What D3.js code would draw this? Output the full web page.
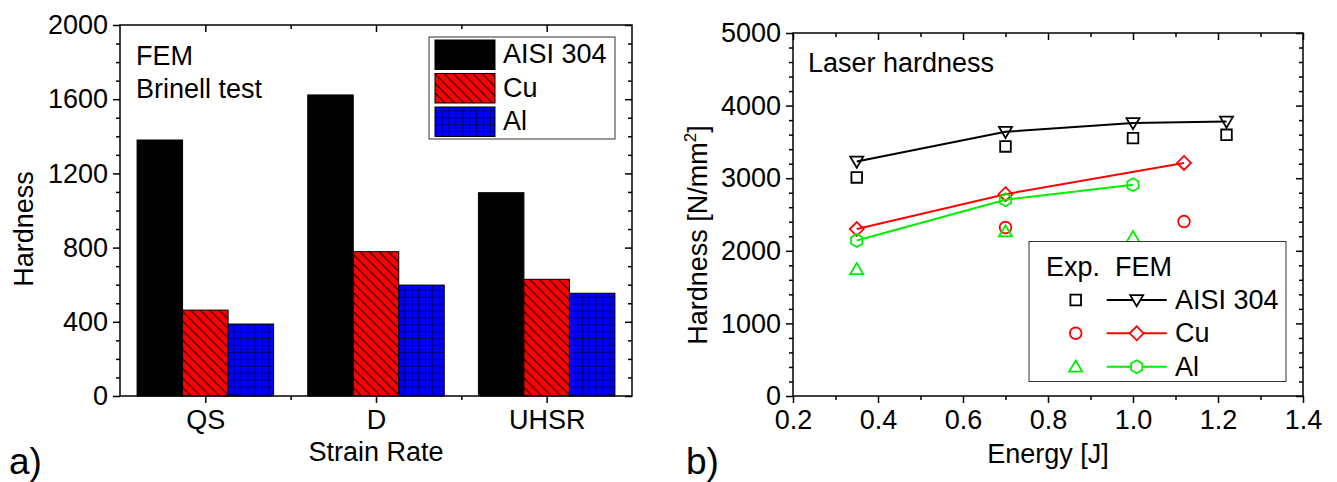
<!DOCTYPE html>
<html>
<head>
<meta charset="utf-8">
<script src="https://cdn.jsdelivr.net/npm/d3@7"></script>
<style>
  body { margin: 0; background: #fff; }
  svg text { font-family: "Liberation Sans", Arial, sans-serif; fill: #000; }
</style>
</head>
<body>
<svg id="chart" width="1337" height="482"></svg>
<script>
// ---- data: panel a) ----
var categories = ["QS", "D", "UHSR"];
var barSeries = ["AISI 304", "Cu", "Al"];
var aisiBars = [1380, 1623, 1096];
var cuBars = [463, 778, 629];
var alBars = [388, 598, 554];
var barTicks = [0, 400, 800, 1200, 1600, 2000];

// ---- data: panel b) ----
var aisiFemE = [0.35, 0.7, 1.0, 1.22];
var aisiFemH = [3230, 3640, 3760, 3780];
var aisiExpE = [0.35, 0.7, 1.0, 1.22];
var aisiExpH = [3010, 3437, 3552, 3598];
var cuFemE = [0.35, 0.7, 1.12];
var cuFemH = [2300, 2780, 3210];
var cuExpE = [0.7, 1.12];
var cuExpH = [2320, 2403];
var alFemE = [0.35, 0.7, 1.0];
var alFemH = [2141, 2702, 2909];
var alExpE = [0.35, 0.7, 1.0];
var alExpH = [1747, 2265, 2188];
var energyTicks = [0.2, 0.4, 0.6, 0.8, 1.0, 1.2, 1.4];
var hardTicks = [0, 1000, 2000, 3000, 4000, 5000];

var svg = d3.select("#chart");
var fontSize = 27;
var axisWidth = 1.5;

// patterns for the hatched bars
var defs = svg.append("defs");
var hatch = defs.append("pattern").attr("id", "hatchRed")
  .attr("patternUnits", "userSpaceOnUse").attr("width", 9.5).attr("height", 9.5);
hatch.append("rect").attr("width", 9.5).attr("height", 9.5).attr("fill", "#ff0000");
hatch.append("path").attr("d", "M-1,-1L10.5,10.5M-1,8.5L1,10.5M8.5,-1L10.5,1")
  .attr("stroke", "#000").attr("stroke-width", 1);
var grid = defs.append("pattern").attr("id", "gridBlue")
  .attr("patternUnits", "userSpaceOnUse").attr("width", 6.9).attr("height", 6.9);
grid.append("rect").attr("width", 6.9).attr("height", 6.9).attr("fill", "#0000ff");
grid.append("path").attr("d", "M0,0H6.9M0,0V6.9")
  .attr("stroke", "#000").attr("stroke-width", 1.1);

var barFills = ["#000", "url(#hatchRed)", "url(#gridBlue)"];

// major + minor ticks on one side of a frame
function drawAxes(g, scale, orient, majors, minors, size, fmt, labels, pad) {
  var ax = orient(scale).tickValues(majors).tickSize(size[0]).tickSizeOuter(0).tickPadding(pad || 5);
  ax.tickFormat(labels ? (fmt || d3.format("d")) : "");
  g.call(ax);
  g.select(".domain").remove();
  g.selectAll("line").attr("stroke", "#000").attr("stroke-width", axisWidth);
  g.selectAll("text").style("font-size", fontSize + "px").style("font-family", "'Liberation Sans', Arial, sans-serif");
  var mg = g.append("g").call(orient(scale).tickValues(minors).tickSize(size[1]).tickSizeOuter(0).tickFormat(""));
  mg.select(".domain").remove();
  mg.selectAll("line").attr("stroke", "#000").attr("stroke-width", axisWidth);
}

// ================= panel a) =================
var A = { left: 120, right: 632, top: 25, bottom: 396 };
var xBand = d3.scaleBand().domain(categories).range([A.left, A.right]).paddingInner(0.2).paddingOuter(0.1);
var xSub = d3.scaleBand().domain(barSeries).range([0, xBand.bandwidth()]);
var xPos = d3.scaleLinear().domain([0.5, 3.5]).range([A.left, A.right]);
var yA = d3.scaleLinear().domain([0, 2000]).range([A.bottom, A.top]);

var barData = categories.map(function(c, i) {
  return { cat: c, vals: [aisiBars[i], cuBars[i], alBars[i]] };
});

var ga = svg.append("g");
ga.selectAll("g.cat").data(barData).enter().append("g").attr("class", "cat")
  .attr("transform", function(d) { return "translate(" + xBand(d.cat) + ",0)"; })
  .selectAll("rect").data(function(d) { return d.vals.map(function(v, j) { return { s: barSeries[j], v: v, j: j }; }); })
  .enter().append("rect")
  .attr("x", function(d) { return xSub(d.s); })
  .attr("y", function(d) { return yA(d.v); })
  .attr("width", xSub.bandwidth())
  .attr("height", function(d) { return yA(0) - yA(d.v); })
  .attr("fill", function(d) { return barFills[d.j]; })
  .attr("stroke", "#000").attr("stroke-width", 1);

var minorA = d3.range(0, 2001, 100).filter(function(v) { return v % 400; });
drawAxes(ga.append("g").attr("transform", "translate(" + A.left + ",0)"), yA, d3.axisLeft, barTicks, minorA, [7, 4], null, true);
drawAxes(ga.append("g").attr("transform", "translate(" + A.right + ",0)"), yA, d3.axisRight, barTicks, minorA, [-7, -4], null, false);
drawAxes(ga.append("g").attr("transform", "translate(0," + A.bottom + ")"), xPos, d3.axisBottom, [1, 2, 3], [1.5, 2.5], [7, 4],
  function(d) { return categories[d - 1]; }, true, 7);
drawAxes(ga.append("g").attr("transform", "translate(0," + A.top + ")"), xPos, d3.axisTop, [1, 2, 3], [1.5, 2.5], [-7, -4], null, false);
ga.append("rect").attr("x", A.left).attr("y", A.top).attr("width", A.right - A.left).attr("height", A.bottom - A.top)
  .attr("fill", "none").attr("stroke", "#000").attr("stroke-width", axisWidth);

ga.append("text").attr("x", 136).attr("y", 65).style("font-size", fontSize + "px").text("FEM");
ga.append("text").attr("x", 136).attr("y", 98).style("font-size", fontSize + "px").text("Brinell test");

// legend a)
var la = ga.append("g");
la.append("rect").attr("x", 429).attr("y", 37).attr("width", 186).attr("height", 102)
  .attr("fill", "#fff").attr("stroke", "#333").attr("stroke-width", 1);
barSeries.forEach(function(s, i) {
  var yy = [40, 73.5, 107][i];
  la.append("rect").attr("x", 435).attr("y", yy).attr("width", 60).attr("height", 29.5)
    .attr("fill", barFills[i]).attr("stroke", "#000").attr("stroke-width", 1);
  la.append("text").attr("x", 503).attr("y", [63, 96.5, 130][i]).style("font-size", fontSize + "px").text(s);
});

ga.append("text").attr("transform", "translate(33,229) rotate(-90)").attr("text-anchor", "middle")
  .style("font-size", fontSize + "px").text("Hardness");
ga.append("text").attr("x", xPos(2)).attr("y", 461).attr("text-anchor", "middle")
  .style("font-size", fontSize + "px").text("Strain Rate");
ga.append("text").attr("x", 9).attr("y", 474).style("font-size", "37px").text("a)");

// ================= panel b) =================
var B = { left: 793, right: 1303, top: 33, bottom: 396 };
var xB = d3.scaleLinear().domain([0.2, 1.4]).range([B.left, B.right]);
var yB = d3.scaleLinear().domain([0, 5000]).range([B.bottom, B.top]);
var gb = svg.append("g");

var minorX = d3.range(3, 14, 2).map(function(v) { return v / 10; });
var minorY = d3.range(0, 5001, 200).filter(function(v) { return v % 1000; });
drawAxes(gb.append("g").attr("transform", "translate(" + B.left + ",0)"), yB, d3.axisLeft, hardTicks, minorY, [7, 4], null, true);
drawAxes(gb.append("g").attr("transform", "translate(" + B.right + ",0)"), yB, d3.axisRight, hardTicks, minorY, [-7, -4], null, false);
drawAxes(gb.append("g").attr("transform", "translate(0," + B.bottom + ")"), xB, d3.axisBottom, energyTicks, minorX, [7, 4], d3.format(".1f"), true, 7);
drawAxes(gb.append("g").attr("transform", "translate(0," + B.top + ")"), xB, d3.axisTop, energyTicks, minorX, [-7, -4], null, false);
gb.append("rect").attr("x", B.left).attr("y", B.top).attr("width", B.right - B.left).attr("height", B.bottom - B.top)
  .attr("fill", "none").attr("stroke", "#000").attr("stroke-width", axisWidth);

// marker shapes
function marker(kind, r) {
  switch (kind) {
    case "tri-down": return "M" + (-r) + "," + (-r * 0.75) + "L" + r + "," + (-r * 0.75) + "L0," + (r * 0.95) + "Z";
    case "tri-up": return "M" + (-r) + "," + (r * 0.75) + "L" + r + "," + (r * 0.75) + "L0," + (-r * 0.95) + "Z";
    case "square": return "M" + (-r) + "," + (-r) + "H" + r + "V" + r + "H" + (-r) + "Z";
    case "diamond": return "M0," + (-r) + "L" + r + ",0L0," + r + "L" + (-r) + ",0Z";
    case "circle": return "M" + r + ",0A" + r + "," + r + " 0 1,1 " + (-r) + ",0A" + r + "," + r + " 0 1,1 " + r + ",0Z";
    case "hexagon":
      return d3.range(6).map(function(k) {
        var a = Math.PI / 3 * k - Math.PI / 2;
        return (k ? "L" : "M") + (r * Math.cos(a)).toFixed(2) + "," + (r * Math.sin(a)).toFixed(2);
      }).join("") + "Z";
  }
}
var markR = { "tri-down": 6.5, "tri-up": 6.5, "square": 5.3, "diamond": 7, "circle": 5.8, "hexagon": 6.5 };

var femSeries = [
  { name: "AISI 304", e: aisiFemE, h: aisiFemH, color: "#000", mk: "tri-down" },
  { name: "Cu", e: cuFemE, h: cuFemH, color: "#ff0000", mk: "diamond" },
  { name: "Al", e: alFemE, h: alFemH, color: "#00ee00", mk: "hexagon" }
];
var expSeries = [
  { e: aisiExpE, h: aisiExpH, color: "#000", mk: "square" },
  { e: cuExpE, h: cuExpH, color: "#ff0000", mk: "circle" },
  { e: alExpE, h: alExpH, color: "#00ee00", mk: "tri-up" }
];

var line = d3.line().x(function(d) { return xB(d[0]); }).y(function(d) { return yB(d[1]); });

expSeries.forEach(function(s) {
  gb.selectAll(null).data(d3.zip(s.e, s.h)).enter().append("path")
    .attr("transform", function(d) { return "translate(" + xB(d[0]) + "," + yB(d[1]) + ")"; })
    .attr("d", marker(s.mk, markR[s.mk]))
    .attr("fill", "none").attr("stroke", s.color).attr("stroke-width", 1.8);
});
femSeries.forEach(function(s) {
  var pts = d3.zip(s.e, s.h);
  gb.append("path").datum(pts).attr("d", line).attr("fill", "none")
    .attr("stroke", s.color).attr("stroke-width", 2);
  gb.selectAll(null).data(pts).enter().append("path")
    .attr("transform", function(d) { return "translate(" + xB(d[0]) + "," + yB(d[1]) + ")"; })
    .attr("d", marker(s.mk, markR[s.mk]))
    .attr("fill", "none").attr("stroke", s.color).attr("stroke-width", 1.8);
});

gb.append("text").attr("x", 808).attr("y", 72).style("font-size", fontSize + "px").text("Laser hardness");

// legend b)
var lb = gb.append("g");
lb.append("rect").attr("x", 1029).attr("y", 241.5).attr("width", 257).attr("height", 140)
  .attr("fill", "#fff").attr("stroke", "#333").attr("stroke-width", 1);
lb.append("text").attr("x", 1046).attr("y", 276).style("font-size", fontSize + "px").text("Exp.");
lb.append("text").attr("x", 1115).attr("y", 276).style("font-size", fontSize + "px").text("FEM");
femSeries.forEach(function(s, i) {
  var cy = [300, 333.3, 366.7][i];
  var ex = expSeries[i];
  lb.append("path").attr("transform", "translate(1075.7," + cy + ")")
    .attr("d", marker(ex.mk, markR[ex.mk])).attr("fill", "none").attr("stroke", ex.color).attr("stroke-width", 1.8);
  lb.append("line").attr("x1", 1106.7).attr("x2", 1166.7).attr("y1", cy).attr("y2", cy)
    .attr("stroke", s.color).attr("stroke-width", 2);
  lb.append("path").attr("transform", "translate(1136.7," + cy + ")")
    .attr("d", marker(s.mk, markR[s.mk])).attr("fill", "#fff").attr("stroke", s.color).attr("stroke-width", 1.8);
  lb.append("text").attr("x", 1175).attr("y", cy + 9).style("font-size", fontSize + "px").text(s.name);
});

var yTitle = gb.append("text").attr("transform", "translate(707,235) rotate(-90)").attr("text-anchor", "middle")
  .style("font-size", fontSize + "px");
yTitle.append("tspan").text("Hardness [N/mm");
yTitle.append("tspan").attr("dy", -11).style("font-size", "17px").text("2");
yTitle.append("tspan").attr("dy", 11).text("]");
gb.append("text").attr("x", xB(0.8)).attr("y", 463).attr("text-anchor", "middle")
  .style("font-size", fontSize + "px").text("Energy [J]");
gb.append("text").attr("x", 686).attr("y", 474).style("font-size", "37px").text("b)");
</script>
</body>
</html>
